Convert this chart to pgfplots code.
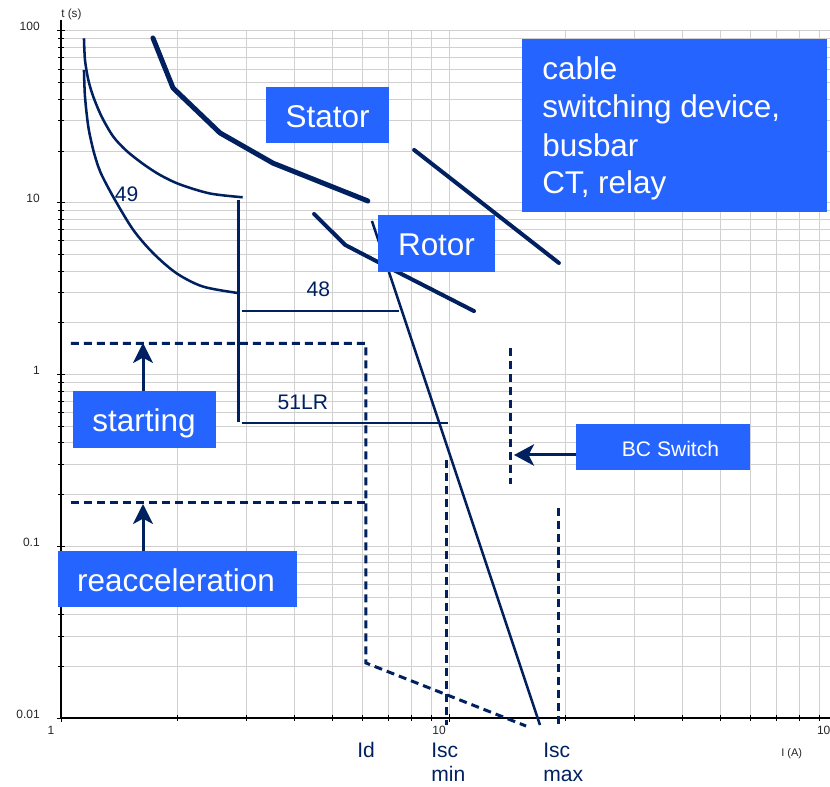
\documentclass[border=0pt]{standalone}
\usepackage{fontspec}
\setmainfont{Liberation Sans}
\usepackage{pgfplots}
\pgfplotsset{compat=1.18}
\usetikzlibrary{arrows.meta}
\definecolor{navy}{RGB}{0,32,96}
\definecolor{boxblue}{RGB}{38,100,255}
\definecolor{gridgray}{RGB}{208,208,208}
\begin{document}
\begin{tikzpicture}[x=0.75pt,y=0.75pt]
\begin{axis}[
  at={(45.75pt,51.75pt)}, anchor=south west,
  scale only axis, width=582pt, height=515.25pt,
  xmode=log, ymode=log,
  xmin=1, xmax=100, ymin=0.01, ymax=100,
  axis x line*=bottom, axis y line*=left,
  axis line style={black, line width=1.1pt},
  y axis line style={shorten >=-8pt},
  xtick={1,10,100}, xticklabels={1,10,100},
  ytick={0.01,0.1,1,10,100}, yticklabels={0.01,0.1,1,10,100},
  minor xtick={2,3,4,5,6,7,8,9,20,30,40,50,60,70,80,90},
  minor ytick={0.02,0.03,0.04,0.05,0.06,0.07,0.08,0.09,0.2,0.3,0.4,0.5,0.6,0.7,0.8,0.9,2,3,4,5,6,7,8,9,20,30,40,50,60,70,80,90},
  grid=both,
  major grid style={gridgray, line width=0.75pt},
  minor grid style={gridgray, line width=0.75pt},
  tick style={black, line width=0.75pt},
  tick align=center, major tick length=6pt, minor tick length=4.5pt,
  tick label style={font=\fontsize{9}{10}\selectfont, black!85},
  xticklabel style={anchor=base, inner sep=0pt, xshift=-7.5pt, yshift=-9.75pt},
  yticklabel style={anchor=base east, inner sep=0pt, xshift=-12.75pt},
  clip=false,
]
% Stator
\addplot[navy, line width=3.75pt, line join=round, line cap=round] coordinates {
 (1.726,91.0) (1.944,46.6) (2.569,25.5) (3.52,17.0) (6.18,10.24)};
% Rotor
\addplot[navy, line width=3pt, line join=round, line cap=round] coordinates {
 (4.49,8.60) (5.40,5.68) (6.56,4.52) (11.6,2.34)};
% cable
\addplot[navy, line width=3pt, line cap=round] coordinates {
 (8.13,20.3) (19.2,4.46)};
% 49 upper
\addplot[navy, line width=1.9pt, smooth, tension=0.5] coordinates {
 (1.146,90.7) (1.153,67.8) (1.176,51.9) (1.211,41.5) (1.273,31.7) (1.364,24.25)
 (1.477,20.01) (1.629,16.81) (1.800,14.51) (2.026,12.78) (2.421,11.32) (2.939,10.76)};
% 49 lower
\addplot[navy, line width=1.9pt, smooth, tension=0.5] coordinates {
 (1.146,59.3) (1.153,41.5) (1.176,27.7) (1.211,20.3) (1.248,16.2) (1.285,13.9)
 (1.378,10.37) (1.536,6.94) (1.729,5.08) (1.987,3.88) (2.327,3.245) (2.893,2.97)};
% vertical 51LR
\addplot[navy, line width=1.9pt] coordinates {(2.87,10.4) (2.87,0.529)};
% 48
\addplot[navy, line width=1.9pt] coordinates {(2.92,2.343) (7.43,2.343)};
% 51LR
\addplot[navy, line width=1.9pt] coordinates {(2.92,0.522) (9.94,0.522)};
% steep line
\addplot[navy, line width=1.9pt] coordinates {(6.33,7.83) (17.16,0.0091)};
% dashed: starting / Id
\addplot[navy, line width=2.25pt, dash pattern=on 6pt off 3.75pt] coordinates {
 (1.061,1.519) (6.11,1.519) (6.11,0.0209) (15.8,0.00898)};
% dashed: reacceleration
\addplot[navy, line width=2.25pt, dash pattern=on 6pt off 3.75pt] coordinates {
 (1.061,0.1786) (6.11,0.1786)};
% Isc min
\addplot[navy, line width=2.25pt, dash pattern=on 6pt off 3.75pt] coordinates {
 (9.86,0.318) (9.86,0.0091)};
% Isc max
\addplot[navy, line width=2.25pt, dash pattern=on 6pt off 3.75pt] coordinates {
 (19.13,0.167) (19.13,0.0090)};
% BC switch
\addplot[navy, line width=2.25pt, dash pattern=on 6pt off 3.75pt] coordinates {
 (14.39,1.427) (14.39,0.2304)};
\end{axis}
% boxes
\fill[boxblue] (266,644) rectangle (389,700);
\fill[boxblue] (378,515) rectangle (495,572);
\fill[boxblue] (522,575) rectangle (827,748);
\fill[boxblue] (73,339) rectangle (216,396);
\fill[boxblue] (58,180) rectangle (297,236);
\fill[boxblue] (576,317) rectangle (750,363);
\begin{scope}[every node/.style={inner sep=0pt, text=white, font=\fontsize{23.6}{28.5}\selectfont}]
\node[anchor=base] at (327.5,659) {Stator};
\node[anchor=base] at (436.5,531) {Rotor};
\node[anchor=base] at (144,355.3) {starting};
\node[anchor=base] at (176,195.3) {reacceleration};
\node[anchor=base west] at (542,707) {cable};
\node[anchor=base west] at (542,669) {switching device,};
\node[anchor=base west] at (542,630) {busbar};
\node[anchor=base west] at (542,593) {CT, relay};
\node[anchor=base, font=\fontsize{15.8}{18}\selectfont] at (670.5,330.3) {BC Switch};
\end{scope}
% arrows
\draw[navy, line width=2.25pt, -{Stealth[length=15pt, width=15pt, inset=4pt]}] (143,396) -- (143,444);
\draw[navy, line width=2.25pt, -{Stealth[length=15pt, width=15pt, inset=4pt]}] (143,236) -- (143,283);
\draw[navy, line width=2.25pt, -{Stealth[length=15pt, width=16pt, inset=4pt]}] (576,332) -- (514,332);
% labels
\begin{scope}[every node/.style={inner sep=0pt, text=navy, font=\fontsize{15.8}{18}\selectfont}]
\node[anchor=base] at (126.7,585.3) {49};
\node[anchor=base] at (318.3,490.3) {48};
\node[anchor=base] at (302.8,377.7) {51LR};
\node[anchor=base west] at (357,29) {Id};
\node[anchor=base west] at (431,29) {Isc};
\node[anchor=base west] at (431,5) {min};
\node[anchor=base west] at (543,29) {Isc};
\node[anchor=base west] at (543,5) {max};
\end{scope}
\node[anchor=base west, inner sep=0pt, font=\fontsize{8.8}{10}\selectfont, black!85] at (61,769) {t (s)};
\node[anchor=base west, inner sep=0pt, font=\fontsize{8.3}{10}\selectfont, black!85] at (781,30) {I (A)};
\pgfresetboundingbox
\path[use as bounding box] (0,0) rectangle (830,787);
\end{tikzpicture}
\end{document}
